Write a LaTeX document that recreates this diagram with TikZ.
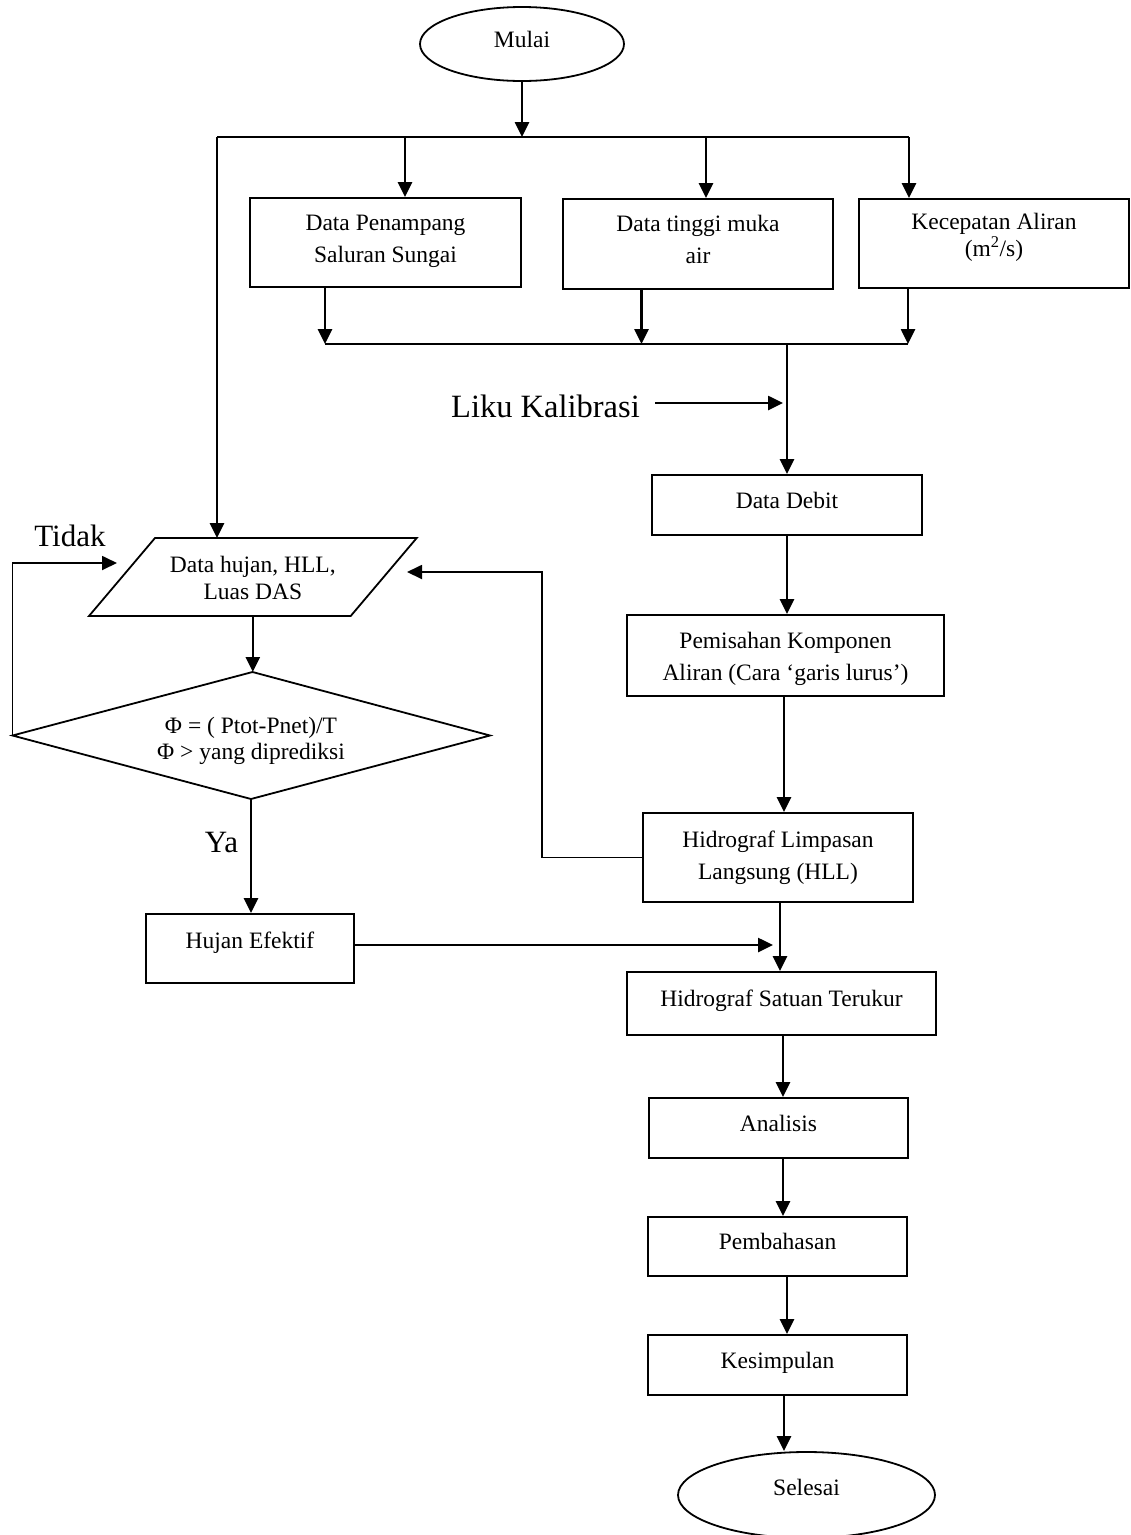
\documentclass[tikz,border=0pt]{standalone}
\usepackage{fontspec}
\setmainfont{Liberation Serif}
\usetikzlibrary{arrows.meta,shapes.geometric}
\newcommand{\twoln}[3]{\raisebox{#1}[\height][\depth]{\begin{tabular}{@{}c@{}}#2\\#3\end{tabular}}}
\begin{document}
\begin{tikzpicture}[x=1pt,y=-1pt,
  every node/.style={font=\fontsize{23.5}{32}\selectfont, inner sep=0pt},
  tight/.style={font=\fontsize{23.5}{26.5}\selectfont},
  box/.style={draw, line width=1.8pt, rectangle},
  one/.style={text height=17pt, text depth=11pt},
  oval/.style={draw, ellipse, line width=1.8pt},
  arr/.style={line width=2.6pt, -{Triangle[length=15pt,width=14pt]}},
  arrthin/.style={line width=1.8pt, -{Triangle[length=15pt,width=14pt]}},
  ln/.style={line width=2.6pt},
  lnthin/.style={line width=1.8pt},
  big/.style={font=\fontsize{31}{36}\selectfont}
]
\useasboundingbox (0,0) rectangle (1131,1535);

% nodes
\node[oval, one, minimum width=204pt, minimum height=74pt] (start) at (522,44) {Mulai};
\node[box, minimum width=271pt, minimum height=89pt] (b1) at (385.5,242.5) {\twoln{2pt}{Data Penampang}{Saluran Sungai}};
\node[box, minimum width=270pt, minimum height=90pt] (b2) at (698,244) {\twoln{3.3pt}{Data tinggi muka}{air}};
\node[box, font=\fontsize{23.5}{24}\selectfont, minimum width=270pt, minimum height=89pt] (b3) at (994,243.5) {\twoln{5.3pt}{Kecepatan Aliran}{(m\textsuperscript{2}/s)}};
\node[big, font=\fontsize{32.5}{36}\selectfont] (liku) at (545.5,406) {Liku Kalibrasi};
\node[box, one, minimum width=270pt, minimum height=60pt] (dd) at (787,505) {Data Debit};
\node[box, minimum width=317pt, minimum height=81pt] (pem) at (785.5,655.5) {\twoln{-2.9pt}{Pemisahan Komponen}{Aliran (Cara ‘garis lurus’)}};
\node[box, minimum width=270pt, minimum height=89pt] (hll) at (778,857.5) {\twoln{0.3pt}{Hidrograf Limpasan}{Langsung (HLL)}};
\node[box, one, minimum width=309pt, minimum height=63pt] (hst) at (781.5,1003.5) {Hidrograf Satuan Terukur};
\node[box, one, minimum width=259pt, minimum height=60pt] (ana) at (778.5,1128) {Analisis};
\node[box, one, minimum width=259pt, minimum height=59pt] (pbh) at (777.5,1246.5) {Pembahasan};
\node[box, one, minimum width=259pt, minimum height=60pt] (kes) at (777.5,1365) {Kesimpulan};
\node[oval, text height=17pt, text depth=17pt, minimum width=257pt, minimum height=86pt] (sel) at (806.5,1495) {Selesai};

% input parallelogram
\node[tight, align=center] (dh) at (252.8,578) {Data hujan, HLL,\\Luas DAS};
\coordinate (pBL) at (89,616);
\coordinate (pTL) at (155,538);
\coordinate (pTR) at (416.7,538);
\coordinate (pBR) at (350.7,616);
\draw[lnthin] (pBL) -- (pTL) -- (pTR) -- (pBR) -- cycle;

% decision diamond
\node[tight, align=center] (dec) at (251,741) {Φ = ( Ptot-Pnet)/T\\Φ > yang diprediksi};
\coordinate (decT) at (252.5,672);
\coordinate (decR) at (490,735.5);
\coordinate (decB) at (251,799);
\coordinate (decL) at (12.5,735.5);
\draw[lnthin] (decT) -- (decR) -- (decB) -- (decL) -- cycle;

\node[box, text height=17pt, text depth=18pt, minimum width=208pt, minimum height=69pt] (huj) at (250,948.5) {Hujan Efektif};

\node[big] (tidak) at (70,536) {Tidak};
\node[big] (ya) at (221.5,842) {Ya};

% junction coordinates
\coordinate (jL) at (217,137);
\coordinate (t1) at (405,137);
\coordinate (t2) at (706,137);
\coordinate (jR) at (909,137);
\coordinate (m1) at (325,344);
\coordinate (m2) at (641.5,344);
\coordinate (m3) at (908,344);
\coordinate (mc) at (787,344);
\coordinate (lks) at (655,403);
\coordinate (lk) at (783,403);
\coordinate (fb) at (542,572);
\coordinate (fbt) at (407,572);
\coordinate (hj) at (773,945);
\coordinate (tk) at (117,563);

% connectors
\draw[arr] (start.south) -- (start.south |- jL);
\draw[ln] (jL) -- (jR);
\draw[arr] (t1) -- (t1 |- b1.north);
\draw[arr] (t2) -- (t2 |- b2.north);
\draw[arr] (jR) -- (jR |- b3.north);
\draw[arr] (jL) -- (jL |- pTL);

\draw[arr] (m1 |- b1.south) -- (m1);
\draw[arr] (m2 |- b2.south) -- (m2);
\draw[arr] (m3 |- b3.south) -- (m3);
\draw[ln] (m1) -- (m3);
\draw[arr] (mc) -- (mc |- dd.north);
\draw[arr] (lks) -- (lk);

\draw[arr] (dd.south) -- (dd.south |- pem.north);
\draw[arr] ([xshift=-1.5pt]pem.south) -- ([xshift=-1.5pt]pem.south |- hll.north);
\draw[arr] ([xshift=2pt]hll.south) -- ([xshift=2pt]hll.south |- hst.north);
\draw[arrthin] (hll.west) -| (fb) -- (fbt);

\draw[arr] (dh |- pBL) -- (dh |- decT);
\draw[arr] (decB) -- (decB |- huj.north);
\draw[arrthin] (decL) |- (tk);
\draw[arr] (huj.east |- hj) -- (hj);

\draw[arr] ([xshift=1.5pt]hst.south) -- ([xshift=1.5pt]hst.south |- ana.north);
\draw[arr] ([xshift=4.5pt]ana.south) -- ([xshift=4.5pt]ana.south |- pbh.north);
\draw[arr] ([xshift=9.5pt]pbh.south) -- ([xshift=9.5pt]pbh.south |- kes.north);
\draw[arr] ([xshift=6.5pt]kes.south) -- ([xshift=6.5pt]kes.south |- sel.north);
\end{tikzpicture}
\end{document}
